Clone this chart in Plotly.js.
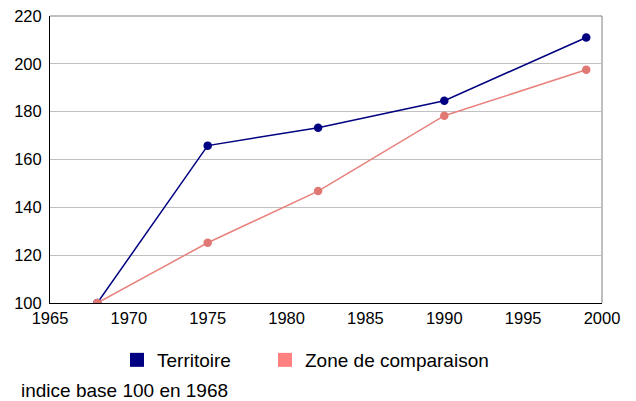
<!DOCTYPE html>
<html>
<head>
<meta charset="utf-8">
<script src="https://cdn.plot.ly/plotly-3.0.1.min.js"></script>
<style>html,body{margin:0;padding:0;background:#fff;}#chart{width:636px;height:401px;}</style>
</head>
<body>
<div id="chart"></div>
<script>
var years = [1968, 1975, 1982, 1990, 1999];
var territoire = [100, 165.8, 173.3, 184.6, 211.0];
var zoneComparaison = [100, 125.2, 146.8, 178.3, 197.5];
var seriesNames = ["Territoire", "Zone de comparaison"];
var footnote = "indice base 100 en 1968";
var xTicks = [1965, 1970, 1975, 1980, 1985, 1990, 1995, 2000];
var yTicks = [100, 120, 140, 160, 180, 200, 220];

var NAVY = "#000080";
var SALMON_LINE = "#e8807c";
var SALMON_MARK = "#e07874";
var SALMON_KEY = "#ff8080";
var FONT = "Liberation Sans, Arial, sans-serif";

var traces = [
  {x: years, y: territoire, mode: "lines+markers", showlegend: false,
   line: {color: NAVY, width: 1.5}, marker: {color: NAVY, size: 8.5}},
  {x: years, y: zoneComparaison, mode: "lines+markers", showlegend: false,
   line: {color: SALMON_LINE, width: 1.5}, marker: {color: SALMON_MARK, size: 8.5}},
  {x: [null], y: [null], mode: "markers", name: seriesNames[0], showlegend: true, legend: "legend",
   marker: {symbol: "square", color: NAVY, size: 14}},
  {x: [null], y: [null], mode: "markers", name: seriesNames[1], showlegend: true, legend: "legend2",
   marker: {symbol: "square", color: SALMON_KEY, size: 14}}
];

function legendAt(px) {
  return {orientation: "h", xref: "container", yref: "container",
          x: px / 636, y: 1 - 360 / 401, xanchor: "left", yanchor: "middle",
          font: {size: 19}, bgcolor: "rgba(0,0,0,0)", borderwidth: 0};
}

var layout = {
  width: 636, height: 401,
  margin: {l: 50, r: 34, t: 16, b: 98, pad: 0},
  paper_bgcolor: "#fff", plot_bgcolor: "#fff",
  font: {family: FONT, color: "#000", size: 16.5},
  xaxis: {range: [1965, 2000], tickvals: xTicks, ticktext: xTicks.map(String),
          showgrid: false, zeroline: false, showline: true, linecolor: "#000", linewidth: 1,
          ticks: "", tickfont: {size: 16.5}, fixedrange: true},
  yaxis: {range: [100, 220], tickvals: yTicks, ticktext: yTicks.map(String),
          showgrid: true, gridcolor: "#c0c0c0", gridwidth: 1, zeroline: false,
          showline: true, linecolor: "#000", linewidth: 1,
          ticks: "", tickfont: {size: 16.5}, ticklabelstandoff: 4, fixedrange: true},
  showlegend: true,
  legend: legendAt(117),
  legend2: legendAt(265),
  shapes: [
    {type: "line", xref: "paper", yref: "paper", x0: 0, x1: 1, y0: 1, y1: 1,
     line: {color: "#808080", width: 1}, layer: "below"},
    {type: "line", xref: "paper", yref: "paper", x0: 1, x1: 1, y0: 0, y1: 1,
     line: {color: "#808080", width: 1}, layer: "below"}
  ],
  annotations: [
    {text: footnote, xref: "paper", yref: "paper", x: (19 - 50) / 552, y: (303 - 390) / 287,
     xanchor: "left", yanchor: "middle", showarrow: false, font: {size: 19}}
  ]
};

Plotly.newPlot("chart", traces, layout, {displayModeBar: false, staticPlot: true});
</script>
</body>
</html>
